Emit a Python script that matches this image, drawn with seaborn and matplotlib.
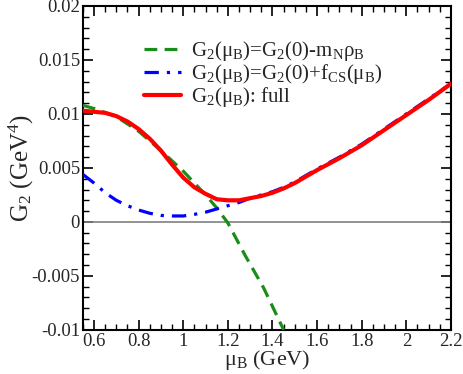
import matplotlib
matplotlib.use("Agg")
import matplotlib.pyplot as plt
import seaborn as sns
from matplotlib.ticker import MultipleLocator, FuncFormatter

# data
mu_green = [0.55, 0.6, 0.7, 0.8, 0.9, 1.0, 1.1, 1.15, 1.2, 1.28, 1.36, 1.45]
g2_green = [0.0108, 0.0105, 0.00975, 0.0084, 0.0066, 0.0047, 0.0025, 0.0013, -0.0001, -0.0032, -0.0061, -0.0100]

mu_blue = [0.55, 0.6, 0.65, 0.7, 0.75, 0.8, 0.85, 0.9, 0.95, 1.0, 1.05, 1.1, 1.15, 1.2, 1.25, 1.3, 1.35,
           1.4, 1.45, 1.5, 1.55, 1.6, 1.7, 1.8, 1.9, 2.0, 2.1, 2.2]
g2_blue = [0.0044, 0.0036, 0.0027, 0.0020, 0.0015, 0.0011, 0.0008, 0.0006, 0.00055, 0.00055, 0.0007, 0.0009, 0.0012, 0.0015, 0.0018, 0.0022, 0.0025,
           0.0028, 0.0032, 0.0037, 0.0043, 0.0049, 0.0060, 0.0072, 0.0086, 0.0100, 0.0114, 0.0128]

mu_red = [0.55, 0.6, 0.65, 0.7, 0.75, 0.8, 0.85, 0.9, 0.95, 1.0, 1.05, 1.1, 1.15, 1.2, 1.25, 1.3, 1.35,
          1.4, 1.45, 1.5, 1.55, 1.6, 1.7, 1.8, 1.9, 2.0, 2.1, 2.2]
g2_red = [0.0103, 0.0102, 0.0101, 0.0098, 0.0093, 0.0086, 0.0077, 0.0066, 0.0053, 0.0041, 0.0032, 0.0026, 0.0021, 0.0020, 0.0020, 0.0022, 0.0024,
          0.0027, 0.0031, 0.0036, 0.0042, 0.0048, 0.0059, 0.0071, 0.0085, 0.0099, 0.0113, 0.0128]

labels = [r"G$_\mathrm{2}$(μ$_\mathrm{B}$)=G$_\mathrm{2}$(0)-m$_\mathrm{N}$ρ$_\mathrm{B}$",
          r"G$_\mathrm{2}$(μ$_\mathrm{B}$)=G$_\mathrm{2}$(0)+f$_\mathrm{CS}$(μ$_\mathrm{B}$)",
          r"G$_\mathrm{2}$(μ$_\mathrm{B}$): full"]

sns.set_style("ticks")
plt.rcParams['font.family'] = ['Liberation Serif', 'DejaVu Serif']
plt.rcParams['mathtext.fontset'] = 'custom'
plt.rcParams['mathtext.rm'] = 'Liberation Serif'
plt.rcParams['mathtext.it'] = 'Liberation Serif:italic'
plt.rcParams['mathtext.bf'] = 'Liberation Serif:bold'

fig = plt.figure(figsize=(4.63, 3.74), dpi=100)
ax = fig.add_axes([0.179, 0.118, 0.795, 0.866])

ax.axhline(0, color='#808080', lw=1.2, zorder=1)

sns.lineplot(x=mu_green, y=g2_green, ax=ax, color='#198c19', lw=2.3,
             dashes=(4, 2.3), label=labels[0], zorder=3)
sns.lineplot(x=mu_blue, y=g2_blue, ax=ax, color='#0000ff', lw=2.3,
             dashes=(4.5, 2.5, 1, 2.5), label=labels[1], zorder=3)
sns.lineplot(x=mu_red, y=g2_red, ax=ax, color='#ff0000', lw=3.0,
             label=labels[2], zorder=4)

ax.set_xlim(0.55, 2.2)
ax.set_ylim(-0.01, 0.02)
ax.xaxis.set_major_locator(MultipleLocator(0.2))
ax.xaxis.set_minor_locator(MultipleLocator(0.05))
ax.yaxis.set_major_locator(MultipleLocator(0.005))
ax.yaxis.set_minor_locator(MultipleLocator(0.001))

def fmt(v, pos):
    s = f"{v:.3f}".rstrip('0').rstrip('.')
    if s in ('-0', ''):
        s = '0'
    return s
ax.xaxis.set_major_formatter(FuncFormatter(fmt))
ax.yaxis.set_major_formatter(FuncFormatter(fmt))

ax.tick_params(which='both', direction='in', top=True, right=True, color='black')
ax.tick_params(which='major', length=7, width=1.2, labelsize=13.5, pad=2)
ax.tick_params(which='minor', length=4, width=1.0)
for sp in ax.spines.values():
    sp.set_linewidth(1.5)
    sp.set_color('black')

ax.set_xlabel(r"μ$_\mathrm{B}$ (GeV)", fontsize=16, labelpad=-1)
ax.set_ylabel(r"G$_\mathrm{2}$ (GeV$^\mathrm{4}$)", fontsize=18, labelpad=-3)

leg = ax.legend(loc='upper left', bbox_to_anchor=(0.115, 0.955), frameon=False,
                fontsize=15, handlelength=1.8, labelspacing=-0.05, handletextpad=0.45)

fig.savefig("out.png", dpi=100)
